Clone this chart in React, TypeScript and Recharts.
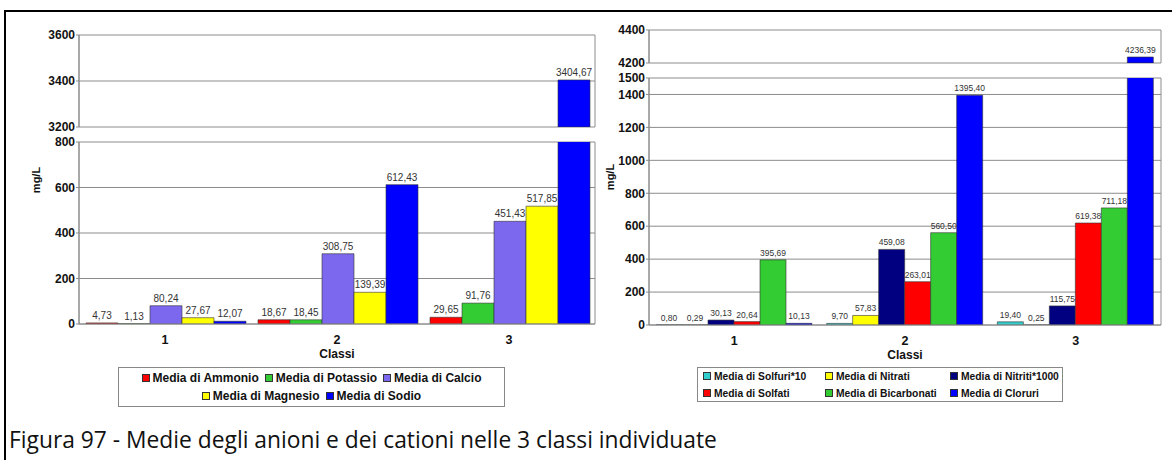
import { BarChart, Bar, XAxis, YAxis, CartesianGrid, LabelList } from 'recharts'

const classi = ['1', '2', '3']

// cationi (grafico di sinistra)
const ammonio = [4.73, 18.67, 29.65]
const potassio = [1.13, 18.45, 91.76]
const calcio = [80.24, 308.75, 451.43]
const magnesio = [27.67, 139.39, 517.85]
const sodio = [12.07, 612.43, 3404.67]

// anioni (grafico di destra)
const solfuri10 = [0.8, 9.7, 19.4]
const nitrati = [0.29, 57.83, 0.25]
const nitriti1000 = [30.13, 459.08, 115.75]
const solfati = [20.64, 263.01, 619.38]
const bicarbonati = [395.69, 560.5, 711.18]
const cloruri = [10.13, 1395.4, 4236.39]

const leftTicksLow = [0, 200, 400, 600, 800]
const leftTicksHigh = [3200, 3400, 3600]
const rightTicksLow = [0, 200, 400, 600, 800, 1000, 1200, 1400, 1500]
const rightTicksHigh = [4200, 4400]

type Series = { key: string; name: string; color: string; values: number[] }

const cationi: Series[] = [
  { key: 'ammonio', name: 'Media di Ammonio', color: '#ff0000', values: ammonio },
  { key: 'potassio', name: 'Media di Potassio', color: '#33cc33', values: potassio },
  { key: 'calcio', name: 'Media di Calcio', color: '#7b68ee', values: calcio },
  { key: 'magnesio', name: 'Media di Magnesio', color: '#ffff00', values: magnesio },
  { key: 'sodio', name: 'Media di Sodio', color: '#0000ff', values: sodio },
]

const anioni: Series[] = [
  { key: 'solfuri', name: 'Media di Solfuri*10', color: '#33cccc', values: solfuri10 },
  { key: 'nitrati', name: 'Media di Nitrati', color: '#ffff00', values: nitrati },
  { key: 'nitriti', name: 'Media di Nitriti*1000', color: '#000080', values: nitriti1000 },
  { key: 'solfati', name: 'Media di Solfati', color: '#ff0000', values: solfati },
  { key: 'bicarbonati', name: 'Media di Bicarbonati', color: '#33cc33', values: bicarbonati },
  { key: 'cloruri', name: 'Media di Cloruri', color: '#0000ff', values: cloruri },
]

const FONT = '"Liberation Sans", Arial, sans-serif'
const GRID = '#8c8c8c'

const fmt = (v: number) => v.toFixed(2).replace('.', ',')

interface SectionProps {
  series: Series[]
  left: number
  top: number
  width: number
  height: number
  margin: { top: number; right: number; bottom: number; left: number }
  domain: [number, number]
  ticks: number[]
  axisWidth: number
  labelSize: number
  showX?: boolean
}

function Section({ series, left, top, width, height, margin, domain, ticks, axisWidth, labelSize, showX }: SectionProps) {
  const [lo, hi] = domain
  const data = classi.map((c, i) => {
    const row: Record<string, string | number | null> = { classe: c }
    series.forEach((s) => {
      const v = s.values[i]
      row[s.key] = lo > 0 && v <= lo ? null : v
    })
    return row
  })

  const renderLabel = (props: any) => {
    const { x, y, width: w, value } = props
    if (value == null || value > hi) return null
    return (
      <text x={Number(x) + Number(w) / 2} y={Number(y) - 4} textAnchor="middle" fontSize={labelSize} fill="#333" fontFamily={FONT}>
        {fmt(Number(value))}
      </text>
    )
  }

  return (
    <div style={{ position: 'absolute', left, top }}>
      <BarChart width={width} height={height} data={data} margin={margin} barCategoryGap={7} barGap={0}>
        <CartesianGrid
          stroke={GRID}
          verticalCoordinatesGenerator={({ offset }: any) => [offset.left, offset.left + offset.width]}
        />
        <XAxis
          dataKey="classe"
          hide={!showX}
          height={showX ? 34 : 0}
          tickLine={false}
          tickMargin={5}
          axisLine={{ stroke: GRID }}
          tick={{ fontSize: 12.5, fontWeight: 'bold', fill: '#111', fontFamily: FONT }}
          label={showX ? { value: 'Classi', position: 'insideBottom', offset: 0, fontSize: 12, fontWeight: 'bold', fill: '#111', fontFamily: FONT } : undefined}
        />
        <YAxis
          type="number"
          domain={domain}
          ticks={ticks}
          interval={0}
          allowDataOverflow
          width={axisWidth}
          tickSize={3}
          tickMargin={1}
          axisLine={{ stroke: GRID }}
          tickLine={{ stroke: GRID }}
          tick={{ fontSize: 12, fontWeight: 'bold', fill: '#111', fontFamily: FONT }}
        />
        {series.map((s) => (
          <Bar key={s.key} dataKey={s.key} name={s.name} fill={s.color} stroke="#333" strokeWidth={0.6} isAnimationActive={false}>
            <LabelList dataKey={s.key} content={renderLabel} />
          </Bar>
        ))}
      </BarChart>
    </div>
  )
}

function Marker({ color }: { color: string }) {
  return <span style={{ display: 'inline-block', width: 6, height: 6, background: color, border: '1px solid #333', marginRight: 3 }} />
}

export default function App() {
  return (
    <div style={{ position: 'absolute', left: 0, top: 0, width: 1172, height: 460, background: '#fff', overflow: 'hidden', fontFamily: FONT }}>
      <div style={{ position: 'absolute', left: 4, top: 10, width: 1200, height: 500, borderLeft: '2px solid #000', borderTop: '2px solid #000' }} />

      {/* cationi */}
      <Section series={cationi} left={0} top={0} width={600} height={140} margin={{ top: 35, right: 5, bottom: 13, left: 24 }}
        domain={[3200, 3600]} ticks={leftTicksHigh} axisWidth={55} labelSize={10} />
      <Section series={cationi} left={0} top={130} width={600} height={234} margin={{ top: 12, right: 5, bottom: 6, left: 24 }}
        domain={[0, 800]} ticks={leftTicksLow} axisWidth={55} labelSize={10} showX />
      <div style={{ position: 'absolute', left: 21, top: 172, width: 30, height: 16, transform: 'rotate(-90deg)', fontSize: 11, fontWeight: 'bold', color: '#111', textAlign: 'center', lineHeight: '16px' }}>mg/L</div>

      {/* anioni */}
      <Section series={anioni} left={600} top={0} width={566} height={76} margin={{ top: 30, right: 5, bottom: 13, left: 0 }}
        domain={[4200, 4400]} ticks={rightTicksHigh} axisWidth={49} labelSize={8.5} />
      <Section series={anioni} left={600} top={66} width={566} height={299} margin={{ top: 12, right: 5, bottom: 6, left: 0 }}
        domain={[0, 1500]} ticks={rightTicksLow} axisWidth={49} labelSize={8.5} showX />
      <div style={{ position: 'absolute', left: 595, top: 169, width: 30, height: 16, transform: 'rotate(-90deg)', fontSize: 11, fontWeight: 'bold', color: '#111', textAlign: 'center', lineHeight: '16px' }}>mg/L</div>

      {/* legende */}
      <div style={{ position: 'absolute', left: 118, top: 367, width: 385, height: 38, border: '1px solid #888', display: 'flex', flexWrap: 'wrap', justifyContent: 'center', alignContent: 'center', rowGap: 2, columnGap: 6, fontSize: 12, fontWeight: 'bold', color: '#111' }}>
        {cationi.map((s) => (
          <span key={s.key} style={{ display: 'inline-flex', alignItems: 'center', lineHeight: '16px' }}>
            <Marker color={s.color} />
            {s.name}
          </span>
        ))}
      </div>
      <div style={{ position: 'absolute', left: 697, top: 367, width: 366, height: 35, border: '1px solid #888', display: 'grid', gridTemplateColumns: '122px 125px 112px', alignContent: 'center', paddingLeft: 5, boxSizing: 'border-box', fontSize: 10.3, fontWeight: 'bold', color: '#111' }}>
        {anioni.map((s) => (
          <span key={s.key} style={{ display: 'inline-flex', alignItems: 'center', lineHeight: '17px', whiteSpace: 'nowrap' }}>
            <Marker color={s.color} />
            {s.name}
          </span>
        ))}
      </div>

      <div style={{ position: 'absolute', left: 9, top: 424, fontFamily: '"Open Sans", Lato, sans-serif', fontSize: 22.8, color: '#111', whiteSpace: 'nowrap' }}>
        Figura 97 - Medie degli anioni e dei cationi nelle 3 classi individuate
      </div>
    </div>
  )
}
